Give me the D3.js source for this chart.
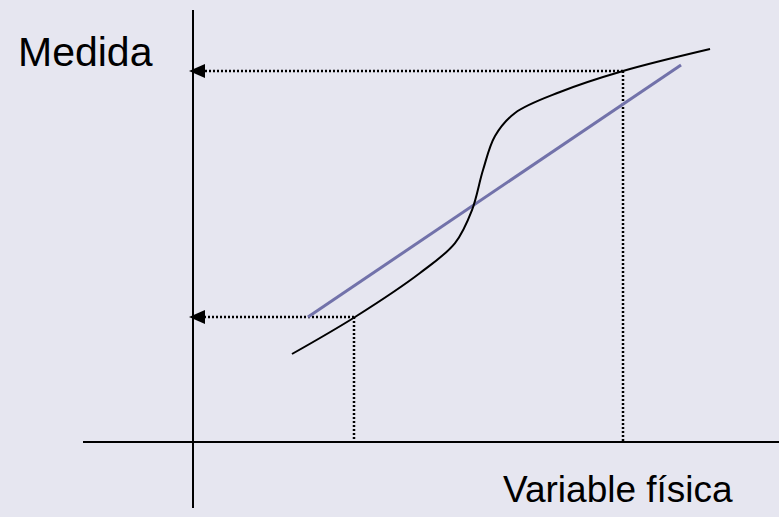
<!DOCTYPE html>
<html>
<head>
<meta charset="utf-8">
<script src="https://cdn.jsdelivr.net/npm/d3@7"></script>
<style>
  body { margin: 0; background: #E6E6F0; }
  svg { display: block; }
</style>
</head>
<body>
<svg class="chart"></svg>
<script>
var width = 779;
var height = 517;

// S-shaped response curve (arbitrary units, 0..100 on both axes)
var curveX = [16.89, 27.65, 38.74, 44.71, 47.61, 49.49, 51.54, 54.95, 62.63, 73.38, 88.23];
var curveY = [20.37, 28.94, 39.12, 46.06, 53.70, 62.96, 70.83, 76.16, 81.02, 85.88, 90.97];

// ideal straight line
var lineX = [19.62, 83.28];
var lineY = [28.94, 87.27];

// marked readings on the curve
var markX = [27.47, 73.38];
var markY = [28.94, 85.88];

// axis extents
var xAxisExtent = [-18.77, 100];
var yAxisExtent = [-15.28, 100];

var yLabel = 'Medida';
var xLabel = 'Variable física';

var chart = d3.select('.chart')
    .attr('width', width)
    .attr('height', height);

var x = d3.scaleLinear().domain([0, 100]).range([193, 779]);
var y = d3.scaleLinear().domain([0, 100]).range([442, 10]);

chart.append('defs').append('marker')
    .attr('id', 'arrow')
    .attr('markerUnits', 'userSpaceOnUse')
    .attr('viewBox', '0 -8 16 16')
    .attr('markerWidth', 16)
    .attr('markerHeight', 16)
    .attr('refX', 12)
    .attr('refY', 0)
    .attr('orient', 'auto')
  .append('path')
    .attr('d', 'M0,-7L16,0L0,7Z')
    .attr('fill', '#000');

// axes
chart.append('line')
    .attr('x1', x(xAxisExtent[0])).attr('x2', x(xAxisExtent[1]))
    .attr('y1', y(0)).attr('y2', y(0))
    .attr('stroke', '#000').attr('stroke-width', 2);

chart.append('line')
    .attr('x1', x(0)).attr('x2', x(0))
    .attr('y1', y(yAxisExtent[0])).attr('y2', y(yAxisExtent[1]))
    .attr('stroke', '#000').attr('stroke-width', 2);

var marks = markX.map(function(d, i){ return {x: d, y: markY[i]}; });

// dotted guides: down to the x axis, across to the y axis
chart.selectAll('.vguide')
    .data(marks)
    .join('line')
      .attr('class', 'vguide')
      .attr('x1', function(d){ return Math.round(x(d.x)); })
      .attr('x2', function(d){ return Math.round(x(d.x)); })
      .attr('y1', function(d){ return Math.round(y(d.y)); })
      .attr('y2', y(0))
      .attr('stroke', '#000')
      .attr('stroke-width', 2.5)
      .attr('stroke-dasharray', '2,2');

chart.selectAll('.hguide')
    .data(marks)
    .join('line')
      .attr('class', 'hguide')
      .attr('x1', function(d){ return Math.round(x(d.x)); })
      .attr('x2', x(0))
      .attr('y1', function(d){ return Math.round(y(d.y)); })
      .attr('y2', function(d){ return Math.round(y(d.y)); })
      .attr('stroke', '#000')
      .attr('stroke-width', 2.5)
      .attr('stroke-dasharray', '2,2')
      .attr('marker-end', 'url(#arrow)');

// straight line
var straight = lineX.map(function(d, i){ return [d, lineY[i]]; });
chart.append('path')
    .datum(straight)
    .attr('d', d3.line().x(function(d){ return x(d[0]); }).y(function(d){ return y(d[1]); }))
    .attr('fill', 'none')
    .attr('stroke', '#7272AA')
    .attr('stroke-width', 3);

// response curve
var curve = curveX.map(function(d, i){ return [d, curveY[i]]; });
chart.append('path')
    .datum(curve)
    .attr('d', d3.line()
      .curve(d3.curveCatmullRom.alpha(0.5))
      .x(function(d){ return x(d[0]); })
      .y(function(d){ return y(d[1]); }))
    .attr('fill', 'none')
    .attr('stroke', '#000')
    .attr('stroke-width', 2);

// labels
chart.append('text')
    .attr('x', 18)
    .attr('y', 66)
    .attr('font-family', 'Liberation Sans, Arial, sans-serif')
    .attr('font-size', 41)
    .attr('fill', '#000')
    .text(yLabel);

chart.append('text')
    .attr('x', 503)
    .attr('y', 502)
    .attr('font-family', 'Liberation Sans, Arial, sans-serif')
    .attr('font-size', 37)
    .attr('fill', '#000')
    .text(xLabel);
</script>
</body>
</html>
